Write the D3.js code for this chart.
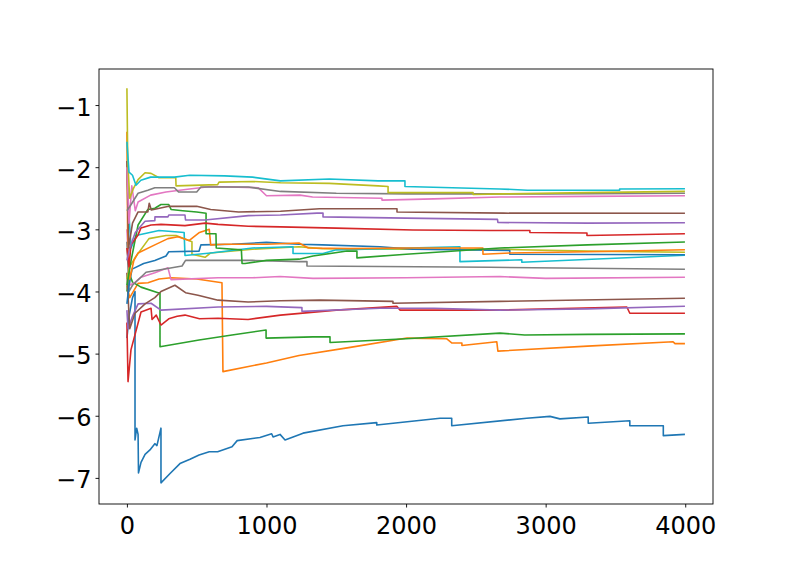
<!DOCTYPE html>
<html>
<head>
<meta charset="utf-8">
<script src="https://cdn.jsdelivr.net/npm/d3@7"></script>
<style>
  body { margin: 0; background: #fff; }
  .tick text { font-family: "DejaVu Sans", sans-serif; font-size: 24px; fill: #000; }
  .tick line { stroke: #000; stroke-width: 0.9; }
</style>
</head>
<body>
<div id="chart"></div>
<script>
// running estimates, one array of [iteration, value] per run
const blue1 = [[0,-4.75],[15,-4.4],[40,-4.1],[58,-4.0],[58,-6.39],[70,-6.2],[80,-6.3],[83,-6.92],[101,-6.75],[130,-6.62],[165,-6.55],[200,-6.45],[215,-6.48],[244,-6.2],[244,-7.08],[309,-6.93],[380,-6.77],[452,-6.7],[517,-6.63],[590,-6.58],[650,-6.58],[753,-6.5],[790,-6.4],[953,-6.35],[1037,-6.29],[1047,-6.34],[1097,-6.3],[1133,-6.39],[1262,-6.28],[1548,-6.16],[1790,-6.11],[1790,-6.15],[2243,-6.04],[2327,-6.04],[2327,-6.16],[2864,-6.04],[3031,-6.01],[3102,-6.05],[3305,-6.02],[3305,-6.12],[3603,-6.08],[3603,-6.16],[3843,-6.16],[3843,-6.32],[3998,-6.3]];
const orange1 = [[0,-3.9],[20,-4.1],[80,-3.87],[151,-3.86],[230,-3.8],[316,-3.78],[500,-3.8],[681,-3.86],[688,-5.29],[1000,-5.15],[1233,-5.03],[1600,-4.9],[2006,-4.75],[2290,-4.76],[2329,-4.83],[2400,-4.83],[2400,-4.87],[2650,-4.81],[2658,-4.96],[3300,-4.88],[3913,-4.81],[3927,-4.84],[3998,-4.839]];
const green1 = [[0,-4.0],[15,-3.7],[40,-3.85],[101,-3.93],[223,-4.02],[237,-4.02],[237,-4.89],[517,-4.78],[753,-4.7],[997,-4.62],[997,-4.75],[1333,-4.73],[1455,-4.73],[1455,-4.82],[2000,-4.76],[2672,-4.67],[2850,-4.7],[3300,-4.69],[3998,-4.683]];
const red1 = [[0,-4.5],[8,-5.45],[29,-4.94],[101,-4.33],[173,-4.27],[180,-4.45],[210,-4.38],[244,-4.54],[300,-4.44],[360,-4.4],[416,-4.38],[520,-4.44],[653,-4.43],[868,-4.45],[1100,-4.38],[1500,-4.3],[1935,-4.24],[1956,-4.3],[2672,-4.3],[3582,-4.25],[3603,-4.35],[3998,-4.35]];
const purple1 = [[0,-4.3],[8,-4.6],[40,-4.4],[80,-4.2],[173,-4.19],[244,-4.3],[653,-4.25],[1000,-4.24],[1254,-4.26],[1254,-4.32],[1813,-4.27],[2200,-4.27],[2672,-4.3],[3300,-4.28],[3998,-4.238]];
const brown1 = [[0,-3.7],[20,-4.6],[58,-4.35],[130,-4.2],[200,-4.1],[244,-4.0],[344,-3.9],[420,-4.02],[509,-4.06],[653,-4.14],[868,-4.17],[1100,-4.15],[1383,-4.14],[1906,-4.16],[1906,-4.19],[2672,-4.16],[3998,-4.109]];
const pink1 = [[0,-3.0],[20,-3.9],[60,-3.85],[101,-3.77],[200,-3.7],[294,-3.62],[316,-3.81],[653,-3.78],[900,-3.78],[1097,-3.76],[1333,-3.79],[2000,-3.78],[2672,-3.76],[3000,-3.79],[3998,-3.771]];
const gray1 = [[0,-3.2],[15,-4.0],[40,-3.9],[137,-3.69],[395,-3.59],[420,-3.5],[900,-3.5],[1233,-3.52],[1290,-3.52],[1290,-3.59],[2600,-3.61],[3998,-3.643]];
const olive1 = [[0,-3.8],[20,-3.6],[60,-3.45],[158,-3.15],[280,-3.1],[352,-3.1],[466,-3.2],[466,-3.4],[560,-3.45],[600,-3.38],[900,-3.32],[1233,-3.28],[1400,-3.31],[2000,-3.32],[2600,-3.32],[3300,-3.35],[3998,-3.37]];
const cyan1 = [[0,-2.0],[10,-2.6],[30,-3.3],[65,-3.1],[230,-3.02],[410,-3.05],[416,-3.42],[600,-3.38],[900,-3.3],[1190,-3.28],[1190,-3.39],[1405,-3.39],[1500,-3.33],[2386,-3.28],[2386,-3.52],[2829,-3.49],[2829,-3.53],[3998,-3.418]];

const blue2 = [[0,-4.2],[15,-3.9],[37,-3.64],[120,-3.55],[200,-3.5],[280,-3.43],[300,-3.36],[517,-3.35],[530,-3.25],[753,-3.24],[1000,-3.21],[1233,-3.24],[1400,-3.25],[1813,-3.28],[2050,-3.32],[2743,-3.34],[2743,-3.4],[3998,-3.408]];
const orange2 = [[0,-1.43],[5,-3.0],[20,-3.8],[50,-3.5],[80,-3.38],[200,-3.25],[294,-3.15],[366,-3.12],[445,-3.18],[520,-3.05],[590,-3.0],[600,-3.25],[700,-3.24],[1000,-3.24],[1233,-3.22],[1300,-3.3],[1600,-3.31],[2000,-3.3],[2550,-3.3],[2551,-3.4],[2743,-3.38],[3300,-3.36],[3998,-3.328]];
const green2 = [[0,-3.9],[30,-3.5],[80,-2.93],[150,-2.68],[200,-2.66],[244,-2.6],[300,-2.6],[316,-2.68],[400,-2.7],[500,-2.72],[567,-2.74],[567,-3.07],[638,-3.07],[640,-3.3],[820,-3.33],[825,-3.55],[846,-3.55],[1000,-3.5],[1233,-3.48],[1333,-3.43],[1577,-3.35],[1648,-3.35],[1648,-3.46],[2000,-3.4],[2672,-3.3],[3300,-3.25],[3998,-3.204]];
const red2 = [[0,-3.3],[15,-3.6],[29,-3.25],[80,-3.09],[100,-2.98],[173,-2.93],[244,-2.92],[416,-2.94],[560,-2.9],[653,-2.92],[870,-2.95],[1100,-2.96],[1500,-2.98],[2050,-3.01],[2600,-3.02],[2887,-3.02],[2887,-3.05],[3296,-3.06],[3296,-3.1],[3998,-3.07]];
const purple2 = [[0,-3.5],[20,-3.3],[60,-3.05],[130,-2.87],[200,-2.86],[201,-2.8],[294,-2.8],[300,-2.77],[416,-2.77],[420,-2.85],[560,-2.85],[870,-2.78],[1100,-2.77],[1362,-2.74],[1405,-2.74],[1405,-2.8],[2000,-2.82],[2655,-2.84],[2658,-2.89],[3300,-2.9],[3998,-2.893]];
const brown2 = [[0,-1.9],[12,-3.3],[40,-2.9],[80,-2.72],[150,-2.72],[160,-2.58],[175,-2.69],[300,-2.63],[500,-2.63],[600,-2.68],[800,-2.72],[1100,-2.71],[1380,-2.67],[1935,-2.67],[1935,-2.72],[2700,-2.74],[3998,-2.742]];
const pink2 = [[0,-2.0],[15,-2.9],[35,-2.3],[60,-2.7],[80,-2.56],[170,-2.45],[280,-2.4],[420,-2.36],[600,-2.31],[940,-2.33],[1000,-2.46],[1240,-2.45],[1330,-2.48],[1827,-2.5],[1827,-2.53],[2200,-2.51],[2672,-2.48],[3300,-2.47],[3998,-2.46]];
const gray2 = [[0,-2.7],[30,-2.6],[80,-2.42],[150,-2.37],[200,-2.33],[340,-2.33],[370,-2.4],[500,-2.4],[530,-2.32],[870,-2.32],[1100,-2.39],[1500,-2.42],[2000,-2.43],[3000,-2.43],[3998,-2.42]];
const olive2 = [[0,-0.73],[6,-1.9],[20,-2.5],[45,-2.35],[80,-2.2],[130,-2.09],[173,-2.1],[230,-2.17],[350,-2.17],[352,-2.3],[650,-2.28],[660,-2.24],[900,-2.23],[1100,-2.25],[1450,-2.26],[1800,-2.3],[1871,-2.31],[1871,-2.41],[2480,-2.41],[2480,-2.44],[2700,-2.43],[3300,-2.41],[3998,-2.39]];
const cyan2 = [[0,-1.59],[15,-2.08],[40,-2.13],[65,-2.29],[100,-2.21],[170,-2.16],[340,-2.16],[450,-2.13],[700,-2.14],[900,-2.16],[1100,-2.22],[1450,-2.19],[1800,-2.22],[1992,-2.22],[1992,-2.31],[2670,-2.35],[2870,-2.37],[3530,-2.37],[3530,-2.35],[3998,-2.346]];

const runs = [blue1, orange1, green1, red1, purple1, brown1, pink1, gray1, olive1, cyan1,
              blue2, orange2, green2, red2, purple2, brown2, pink2, gray2, olive2, cyan2];
const palette = ['#1f77b4', '#ff7f0e', '#2ca02c', '#d62728', '#9467bd',
                 '#8c564b', '#e377c2', '#7f7f7f', '#bcbd22', '#17becf'];
const xTicks = [0, 1000, 2000, 3000, 4000];
const yTicks = [-7, -6, -5, -4, -3, -2, -1];

let w = 792, h = 576;
let box = {left: 99, right: 713, top: 69, bottom: 504};

let svg = d3.select('#chart').append('svg')
  .attr('width', w)
  .attr('height', h);

svg.append('rect').attr('width', w).attr('height', h).attr('fill', '#fff');

let xScale = d3.scaleLinear().domain([-200, 4199]).range([box.left, box.right]);
let yScale = d3.scaleLinear().domain([-7.42, -0.42]).range([box.bottom, box.top]);

let line = d3.line()
  .x(d => xScale(d[0]))
  .y(d => yScale(d[1]));

svg.append('g')
  .selectAll('path')
  .data(runs)
  .enter()
  .append('path')
  .attr('d', line)
  .attr('fill', 'none')
  .attr('stroke', (d, i) => palette[i % 10])
  .attr('stroke-width', 1.6)
  .attr('stroke-linejoin', 'round');

// Axes
let xAxis = d3.axisBottom(xScale).tickValues(xTicks).tickSize(3.5).tickPadding(9)
  .tickSizeOuter(0).tickFormat(d3.format('d'));
svg.append('g')
  .attr('transform', 'translate(0,' + box.bottom + ')')
  .call(xAxis)
  .call(g => g.select('.domain').remove());

let yAxis = d3.axisLeft(yScale).tickValues(yTicks).tickSize(3.5).tickPadding(4)
  .tickSizeOuter(0).tickFormat(d => '\u2212' + Math.abs(d));
svg.append('g')
  .attr('transform', 'translate(' + box.left + ',0)')
  .call(yAxis)
  .call(g => g.select('.domain').remove())
  .selectAll('text').attr('dy', '0.42em');

svg.selectAll('.tick text').attr('font-family', null).attr('font-size', null);

// frame
svg.append('rect')
  .attr('x', box.left)
  .attr('y', box.top)
  .attr('width', box.right - box.left)
  .attr('height', box.bottom - box.top)
  .attr('fill', 'none')
  .attr('stroke', '#000')
  .attr('stroke-width', 0.9);
</script>
</body>
</html>
